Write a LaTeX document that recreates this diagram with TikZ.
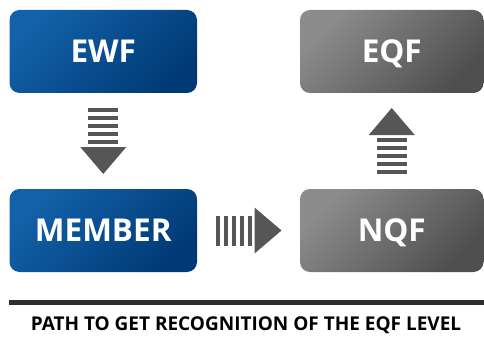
\documentclass[tikz,border=0pt]{standalone}
\usepackage{fontspec}
\setmainfont{Open Sans}
\usetikzlibrary{arrows}

\definecolor{bluelight}{HTML}{1361A8}
\definecolor{bluedark}{HTML}{003A76}
\definecolor{graylight}{HTML}{8C8C8C}
\definecolor{graydark}{HTML}{4F4F4F}
\definecolor{arrowgray}{HTML}{565656}
\definecolor{rulegray}{HTML}{2E2E2E}

\begin{document}
\begin{tikzpicture}[x=1pt,y=-1pt]
        \tikzset{box/.style = {rounded corners=10pt, minimum height=83pt, text=white, font=\bfseries\fontsize{31.5}{31.5}\selectfont, text height=22pt, text depth=0pt, inner sep=0pt}}
        \tikzset{bluebox/.style = {box, minimum width=187.5pt, top color=bluelight, bottom color=bluedark, shading angle=45}}
        \tikzset{graybox/.style = {box, minimum width=183.5pt, top color=graylight, bottom color=graydark, shading angle=45}}
        \tikzset{stripe arrow/.pic = {
            \foreach \s in {-33,-25,-17,-9,-1}
                \fill[arrowgray] (\s,-15) rectangle ++(4,30);
            \fill[arrowgray] (6,-23) -- (33,0) -- (6,23) -- cycle;
        }}
        \useasboundingbox (0,0) rectangle (484,342);
        % boxes
        \node[bluebox] (ewf) at (103.25,51.5) {EWF};
        \node[graybox] (eqf) at (391.75,51.5) {EQF};
        \node[bluebox] (member) at (103.25,230.5) {MEMBER};
        \node[graybox] (nqf) at (391.75,230.5) {NQF};
        % arrows
        \path (ewf) -- (member) pic[midway, sloped, allow upside down] {stripe arrow};
        \path (member) -- (nqf) pic[midway, sloped, allow upside down] {stripe arrow};
        \path (nqf) -- (eqf) pic[midway, sloped, allow upside down] {stripe arrow};
        % caption
        \draw[line width=5pt, rulegray] (9,302.5) -- (484,302.5);
        \node[font=\bfseries\fontsize{19}{19}\selectfont, text=black, anchor=base] (title) at (246,330.5) {PATH TO GET RECOGNITION OF THE EQF LEVEL};
    \end{tikzpicture}
\end{document}
